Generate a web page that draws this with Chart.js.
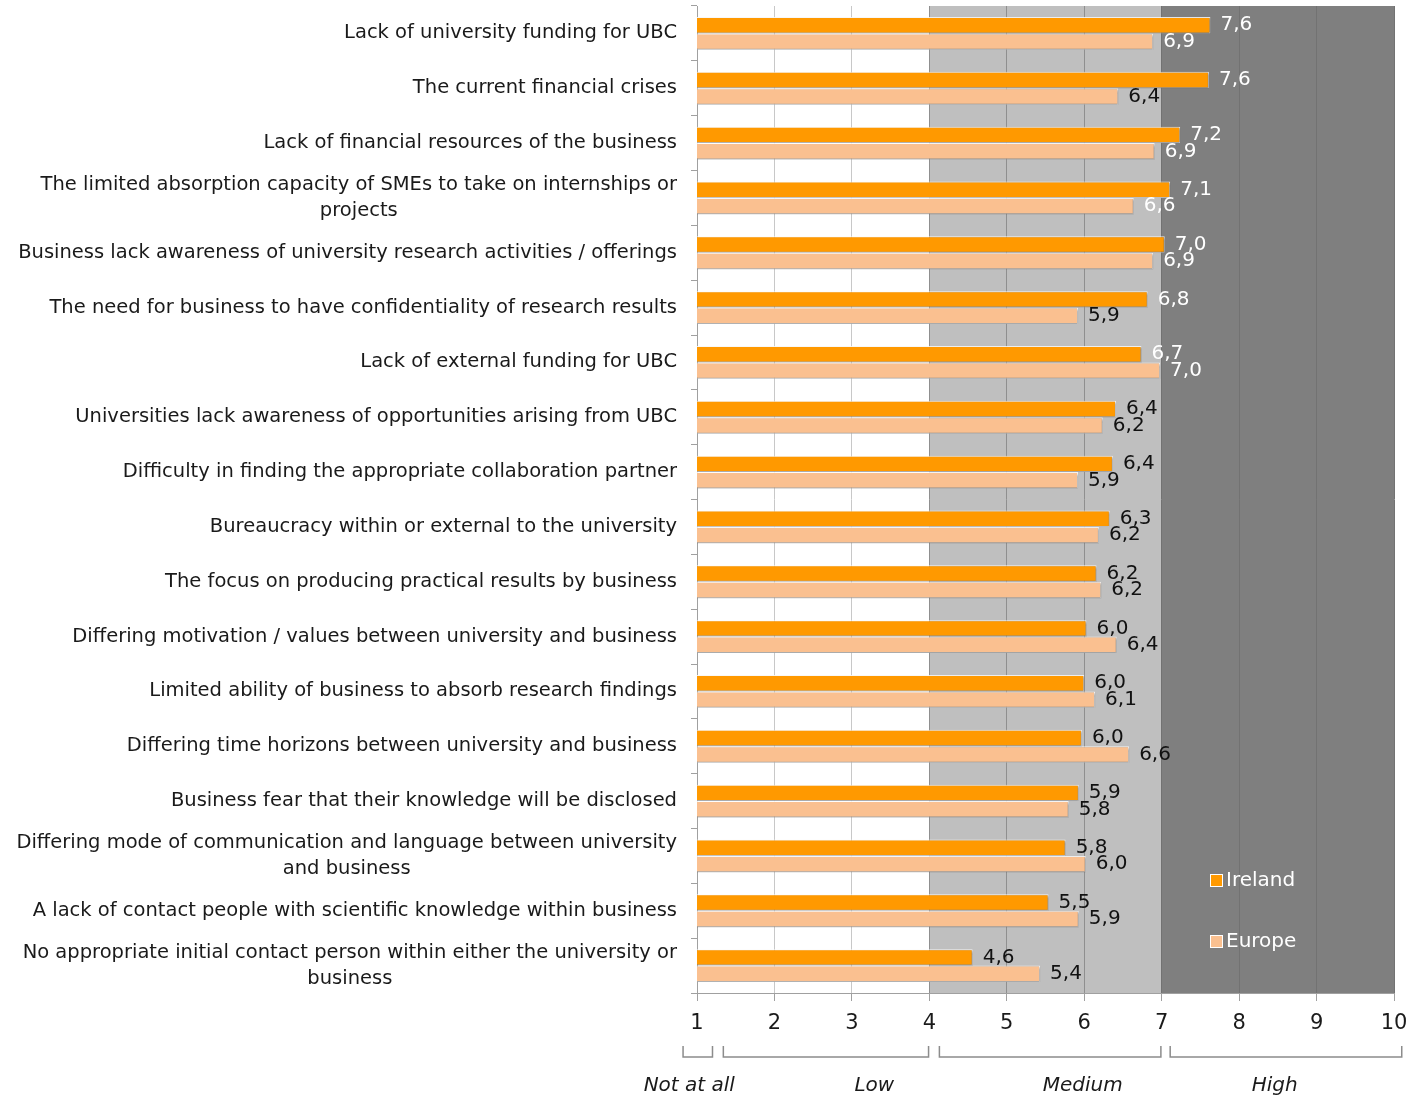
<!DOCTYPE html>
<html>
<head>
<meta charset="utf-8">
<script src="https://cdn.jsdelivr.net/npm/chart.js@4.4.0/dist/chart.umd.min.js"></script>
<style>
  html, body { margin: 0; padding: 0; background: #fff; }
  #wrap { width: 1412px; height: 1099px; }
</style>
</head>
<body>
<div id="wrap"><canvas id="chart" width="1412" height="1099"></canvas></div>
<script>
// categories, top to bottom
const categories = [
  "Lack of university funding for UBC",
  "The current financial crises",
  "Lack of financial resources of the business",
  ["The limited absorption capacity of SMEs to take on internships or", "projects"],
  "Business lack awareness of university research activities / offerings",
  "The need for business to have confidentiality of research results",
  "Lack of external funding for UBC",
  "Universities lack awareness of opportunities arising from UBC",
  "Difficulty in finding the appropriate collaboration partner",
  "Bureaucracy within or external to the university",
  "The focus on producing practical results by business",
  "Differing motivation / values between university and business",
  "Limited ability of business to absorb research findings",
  "Differing time horizons between university and business",
  "Business fear that their knowledge will be disclosed",
  ["Differing mode of communication and language between university", "and business"],
  "A lack of contact people with scientific knowledge within business",
  ["No appropriate initial contact person within either the university or", "business"]
];

const irelandValues = [7.63, 7.61, 7.24, 7.11, 7.04, 6.82, 6.74, 6.41, 6.37, 6.33, 6.16, 6.03, 6.0, 5.97, 5.93, 5.76, 5.54, 4.56];
const europeValues  = [6.89, 6.44, 6.91, 6.64, 6.89, 5.92, 6.98, 6.24, 5.92, 6.19, 6.22, 6.42, 6.14, 6.58, 5.80, 6.02, 5.93, 5.43];

const xTicks = [1, 2, 3, 4, 5, 6, 7, 8, 9, 10];
const scaleLabels = ["Not at all", "Low", "Medium", "High"];

const FONT = "'DejaVu Sans', sans-serif";
const ORANGE = "#ff9900";
const PEACH = "#fac090";

// background bands behind the plot
const bandsPlugin = {
  id: "bands",
  beforeDraw(chart) {
    const { ctx, chartArea: a, scales: { x } } = chart;
    ctx.save();
    ctx.fillStyle = "#bfbfbf";
    ctx.fillRect(x.getPixelForValue(4), a.top, x.getPixelForValue(7) - x.getPixelForValue(4), a.bottom - a.top);
    ctx.fillStyle = "#7f7f7f";
    ctx.fillRect(x.getPixelForValue(7), a.top, x.getPixelForValue(10) - x.getPixelForValue(7), a.bottom - a.top);
    ctx.restore();
  }
};

// soft shadow on the bars
const shadowPlugin = {
  id: "barShadow",
  beforeDatasetsDraw(chart) {
    const ctx = chart.ctx;
    ctx.save();
    ctx.shadowColor = "rgba(0,0,0,0.35)";
    ctx.shadowOffsetX = 1;
    ctx.shadowOffsetY = 1.5;
    ctx.shadowBlur = 2;
  },
  afterDatasetsDraw(chart) {
    chart.ctx.restore();
  }
};

// category labels, value labels, legend, bottom brackets
const textPlugin = {
  id: "texts",
  afterDraw(chart) {
    const { ctx, chartArea: a, scales: { x, y } } = chart;
    ctx.save();

    // category labels: block right aligned, lines centred
    ctx.font = "19.5px " + FONT;
    ctx.fillStyle = "#1a1a1a";
    ctx.textBaseline = "middle";
    ctx.textAlign = "center";
    const right = a.left - 20;
    categories.forEach((lab, i) => {
      const lines = Array.isArray(lab) ? lab : [lab];
      const w = Math.max(...lines.map(l => ctx.measureText(l).width));
      const cy = y.getPixelForValue(i);
      const lh = 26;
      lines.forEach((l, j) => {
        ctx.fillText(l, right - w / 2, cy + (j - (lines.length - 1) / 2) * lh);
      });
    });

    // value labels
    ctx.font = "20px " + FONT;
    ctx.textAlign = "left";
    chart.data.datasets.forEach((ds, di) => {
      chart.getDatasetMeta(di).data.forEach((bar, i) => {
        const v = ds.data[i];
        ctx.fillStyle = v >= 6.6 ? "#ffffff" : "#111111";
        ctx.fillText(v.toFixed(1).replace(".", ","), bar.x + 10, bar.y);
      });
    });

    // legend inside the dark band
    ctx.font = "20px " + FONT;
    chart.data.datasets.forEach((ds, di) => {
      const bx = 1210, by = 874 + di * 61;
      ctx.fillStyle = ds.backgroundColor;
      ctx.fillRect(bx, by, 12, 12);
      ctx.strokeStyle = "#ffffff";
      ctx.lineWidth = 1;
      ctx.strokeRect(bx + 0.5, by + 0.5, 12, 12);
      ctx.fillStyle = "#ffffff";
      ctx.fillText(ds.label, bx + 16, by + 7);
    });

    // brackets under the axis
    const ranges = [[0.82, 1.2], [1.34, 3.99], [4.13, 6.99], [7.11, 10.1]];
    const mids = [0.9, 3.29, 5.98, 8.46];
    ctx.strokeStyle = "#8c8c8c";
    ctx.lineWidth = 1.5;
    ranges.forEach(([f, t]) => {
      const x0 = x.getPixelForValue(f), x1 = x.getPixelForValue(t);
      ctx.beginPath();
      ctx.moveTo(x0, 1046);
      ctx.lineTo(x0, 1057);
      ctx.lineTo(x1, 1057);
      ctx.lineTo(x1, 1046);
      ctx.stroke();
    });
    ctx.font = "italic 20px " + FONT;
    ctx.fillStyle = "#1a1a1a";
    ctx.textAlign = "center";
    scaleLabels.forEach((s, i) => {
      ctx.fillText(s, x.getPixelForValue(mids[i]), 1086);
    });

    ctx.restore();
  }
};

new Chart(document.getElementById("chart"), {
  type: "bar",
  data: {
    labels: categories.map(c => Array.isArray(c) ? c.join(" ") : c),
    datasets: [
      {
        label: "Ireland",
        data: irelandValues,
        backgroundColor: ORANGE,
        borderColor: "rgba(255,255,255,0.85)",
        borderWidth: 1,
        barPercentage: 1,
        categoryPercentage: 0.6
      },
      {
        label: "Europe",
        data: europeValues,
        backgroundColor: PEACH,
        borderColor: "rgba(255,255,255,0.85)",
        borderWidth: 1,
        barPercentage: 1,
        categoryPercentage: 0.6
      }
    ]
  },
  options: {
    indexAxis: "y",
    responsive: false,
    animation: false,
    layout: { padding: { top: 6, right: 0, left: 0, bottom: 0 } },
    plugins: {
      legend: { display: false },
      tooltip: { enabled: false }
    },
    scales: {
      x: {
        min: 1,
        max: 10,
        afterFit(s) {
          s.height = 106;
          s.paddingLeft = 0;
          s.paddingRight = 18;
        },
        afterBuildTicks(s) { s.ticks = xTicks.map(v => ({ value: v })); },
        ticks: {
          font: { family: FONT, size: 21 },
          color: "#1a1a1a",
          padding: 10
        },
        grid: {
          color: c => {
            const v = c.tick ? c.tick.value : 0;
            if (v < 4) return "#c8c8c8";
            if (v < 7) return "#8f8f8f";
            return "#727272";
          },
          tickColor: "#a0a0a0",
          tickLength: 8,
          lineWidth: 1
        },
        border: { color: "#a0a0a0" }
      },
      y: {
        afterFit(s) { s.width = 697; },
        ticks: { display: false },
        grid: {
          offset: true,
          drawOnChartArea: false,
          color: "#a0a0a0",
          tickLength: 6
        },
        border: { color: "#a0a0a0" }
      }
    }
  },
  plugins: [bandsPlugin, shadowPlugin, textPlugin]
});
</script>
</body>
</html>
